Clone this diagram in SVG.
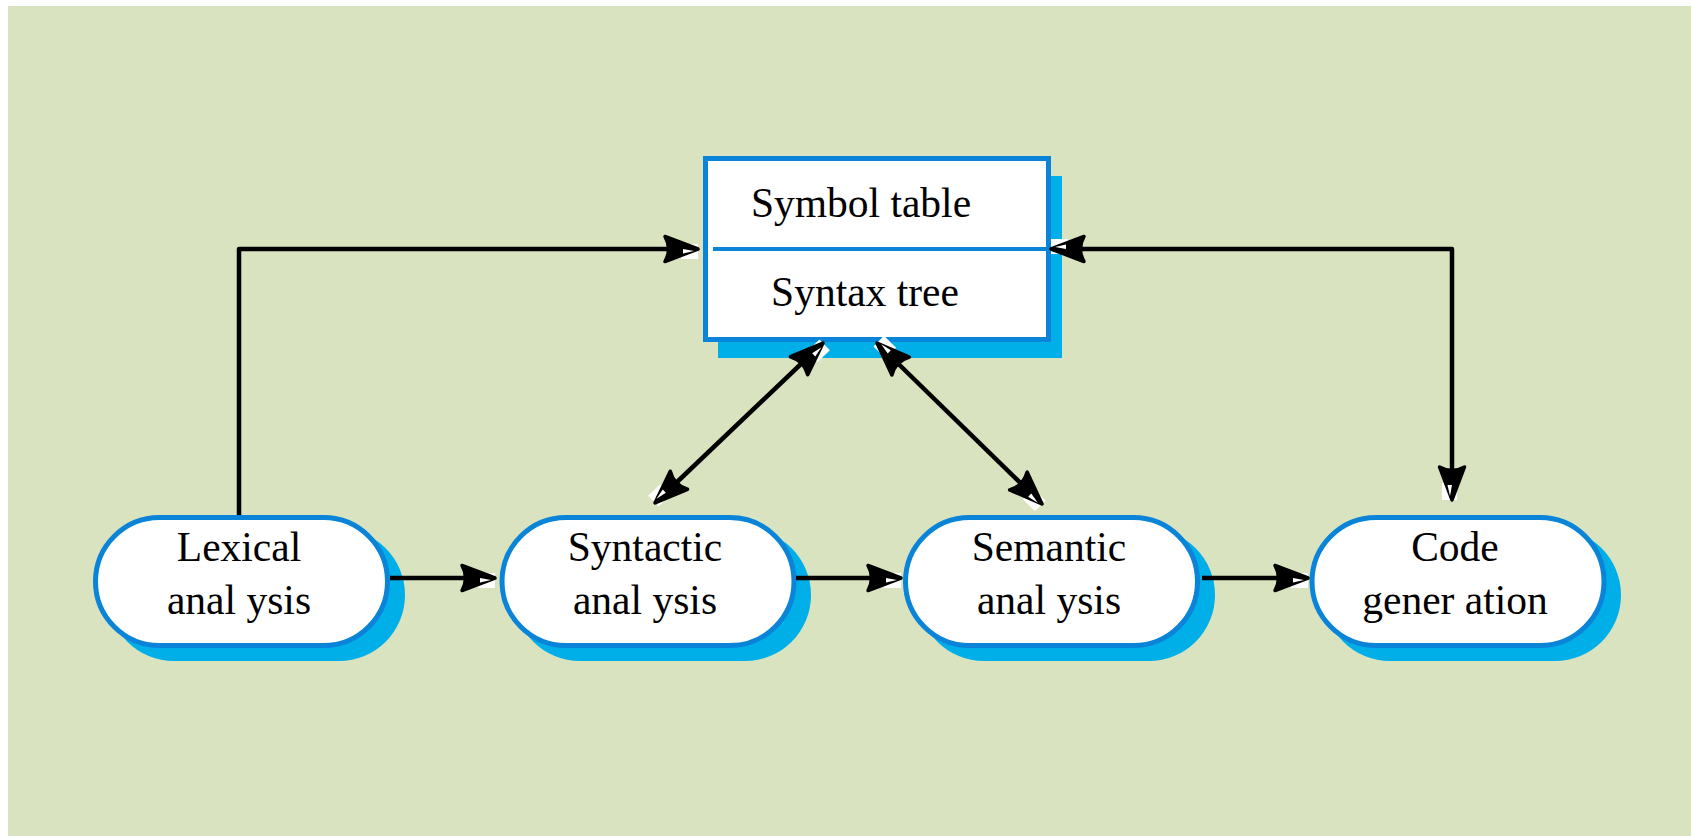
<svg xmlns="http://www.w3.org/2000/svg" width="1691" height="836" viewBox="0 0 1691 836">
<style>
.bg{fill:#d9e3bf}
.shadow{fill:#00aee8}
.node{fill:#fff;stroke:#0a84d8;stroke-width:5}
.lbl{font-family:"Liberation Serif","Times New Roman",serif;font-size:41.5px;fill:#000;text-anchor:middle}
.conn{fill:none;stroke:#000;stroke-width:4.5;stroke-linejoin:round}
</style>
<defs>
<marker id="ah" markerUnits="userSpaceOnUse" markerWidth="40" markerHeight="30" viewBox="-36 -15 40 30" refX="0" refY="0" orient="auto-start-reverse" overflow="visible">
<rect x="-17" y="-5" width="17" height="15" fill="#fff"/>
<path d="M0,0 L-33,-12.5 Q-26,0 -33,12.5 Z" fill="#000" stroke="#000" stroke-width="3.5" stroke-linejoin="round"/>
<path d="M-4,2 L-15,0 L-15,4.5 Z" fill="#fff"/>
</marker>
</defs>
<rect class="bg" x="8" y="6" width="1683" height="830"/>

<g id="store">
<rect class="shadow" x="718" y="176" width="344" height="182"/>
<rect x="705.5" y="158.5" width="343" height="181" fill="#fff" stroke="#0a84d8" stroke-width="5"/>
<line x1="713" y1="249" x2="1049" y2="249" stroke="#0a84d8" stroke-width="4"/>
<text class="lbl" x="861" y="217">Symbol table</text>
<text class="lbl" x="865" y="306">Syntax tree</text>
</g>

<g id="lexical">
<rect class="shadow" x="108" y="529" width="297" height="132" rx="66"/>
<rect class="node" x="95.5" y="517.5" width="292" height="128" rx="64"/>
<text class="lbl" x="239" y="561">Lexical</text>
<text class="lbl" x="239" y="614">anal ysis</text>
</g>

<g id="syntactic">
<rect class="shadow" x="514" y="529" width="297" height="132" rx="66"/>
<rect class="node" x="502" y="517.5" width="292" height="128" rx="64"/>
<text class="lbl" x="645" y="561">Syntactic</text>
<text class="lbl" x="645" y="614">anal ysis</text>
</g>

<g id="semantic">
<rect class="shadow" x="918" y="529" width="297" height="132" rx="66"/>
<rect class="node" x="905.5" y="517.5" width="292" height="128" rx="64"/>
<text class="lbl" x="1049" y="561">Semantic</text>
<text class="lbl" x="1049" y="614">anal ysis</text>
</g>

<g id="codegen">
<rect class="shadow" x="1324" y="529" width="297" height="132" rx="66"/>
<rect class="node" x="1312" y="517.5" width="292" height="128" rx="64"/>
<text class="lbl" x="1455" y="561">Code</text>
<text class="lbl" x="1455" y="614">gener ation</text>
</g>

<g id="connectors">
<path class="conn" d="M239,515 L239,249 L698,249" marker-end="url(#ah)"/>
<path class="conn" d="M1051,249 L1452,249 L1452,500" marker-start="url(#ah)" marker-end="url(#ah)"/>
<path class="conn" d="M823,343 L655,503" marker-start="url(#ah)" marker-end="url(#ah)"/>
<path class="conn" d="M877,343 L1042,504" marker-start="url(#ah)" marker-end="url(#ah)"/>
<path class="conn" d="M390,578 L495,578" marker-end="url(#ah)"/>
<path class="conn" d="M796,578 L901,578" marker-end="url(#ah)"/>
<path class="conn" d="M1202,578 L1308,578" marker-end="url(#ah)"/>
</g>
</svg>
